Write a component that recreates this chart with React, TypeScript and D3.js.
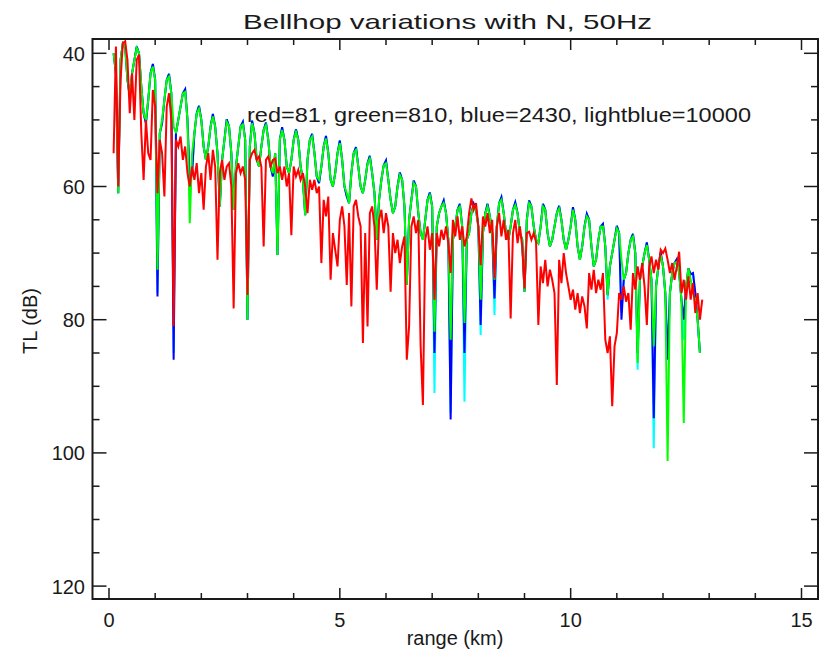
import React from 'react';
import * as d3 from 'd3';

const chartTitle = 'Bellhop variations with N, 50Hz';
const legendText = 'red=81, green=810, blue=2430, lightblue=10000';
const xLabel = 'range (km)';
const yLabel = 'TL (dB)';
const xMajorTicks = [0, 5, 10, 15];
const xMinorTicks = [0, 1, 2, 3, 4, 5, 6, 7, 8, 9, 10, 11, 12, 13, 14, 15];
const yMajorTicks = [40, 60, 80, 100, 120];
const yMinorTicks = [40, 45, 50, 55, 60, 65, 70, 75, 80, 85, 90, 95, 100, 105, 110, 115, 120];

// range grid: first sample (km) and spacing (km)
const rangeStartKm = 0.1;
const rangeStepKm = 0.05;

// N = 81
const redTL = [
  55, 39, 60, 44, 38.5, 38.2, 41, 49, 43, 50, 41, 40.2, 52, 59, 50, 55, 56, 45.5, 48, 61,
  53, 55, 61.5, 48, 46, 50, 81, 53, 54, 52.5, 56, 54, 58, 60, 57, 59, 56.5, 61, 58, 63.5,
  57, 55, 59, 54.5, 57, 71, 58, 56, 59, 57, 56.5, 60, 78.3, 58, 56.5, 58, 57, 59, 76.3, 56,
  55, 54.5, 56, 55.5, 57, 69, 56, 55.5, 57, 56, 55.8, 58, 57, 59, 57, 60, 58, 67.3, 57, 58.5,
  57.5, 59, 58, 60, 64, 59, 60.5, 59, 61, 60, 71.5, 62, 64.5, 61.5, 74, 67, 69.5, 72, 65, 63,
  66, 74.8, 64, 78, 63, 62, 64.5, 66, 83.5, 67, 81, 64, 63, 66, 75.5, 65, 63.5, 67, 64, 66,
  75.8, 67, 70, 68, 71.5, 69, 67.5, 86, 81, 66, 64.5, 67, 65, 84, 92.8, 68, 66, 69.5, 67, 77,
  67, 69, 66.5, 68, 66, 68.5, 73, 65, 67.5, 64.5, 68, 66, 69, 67.5, 64, 61.8, 63.5, 62.5, 66, 71.8,
  64.5, 66, 64, 67, 65, 73.8, 66, 64, 67.5, 65, 68, 66.5, 79.8, 67, 65, 68.5, 66, 69, 75.3, 67,
  66.8, 68, 67, 68.3, 80.8, 72, 74.5, 71, 75, 72.5, 74, 76, 89.8, 71, 74.5, 70, 73, 75, 77, 75.5,
  78.5, 76, 79, 76.5, 78, 81.3, 73, 75.5, 72.5, 76, 74, 75.5, 73, 83, 85, 82.5, 93, 84, 82, 76,
  77, 75, 77.3, 76, 81.5, 73, 75.5, 72, 74, 71.5, 75, 80.8, 72, 70.5, 73, 71, 72.5, 69.5, 70, 69.3,
  71, 73, 71.5, 74, 72, 69.8, 76, 74, 77, 73.5, 77, 74.5, 79, 76, 80, 77,
];

// N = 810
const greenTL = [
  40, 43, 61, 41, 38.5, 39, 44, 46, 43, 41, 39.2, 40, 45, 49, 50, 47, 43, 42, 44, 72.5,
  52, 50, 47, 44, 43.5, 46, 51, 52, 50, 48, 46, 45.8, 50, 65.5, 55, 52, 49, 48.3, 50, 54,
  56, 54, 51, 49.5, 51, 55, 63, 56, 53, 50.3, 51, 55, 63.5, 57, 54, 51, 50.7, 53, 80, 54,
  50.5, 52, 56, 57, 54, 51.5, 50.8, 53, 57, 58, 55, 70.3, 53, 51.5, 53, 57, 58, 56, 53, 51.8,
  53, 57, 59, 64.3, 56, 53, 52.5, 55, 58.5, 59, 57, 54, 52.8, 55, 59, 60, 58, 55, 53.5, 56,
  60, 61, 62.5, 58, 55, 54.5, 57, 60, 61, 59, 56.5, 55.8, 58, 61, 68, 62, 59, 56.8, 56.5, 59,
  62, 64, 63, 60, 58.3, 59, 63, 74.8, 65, 62, 59.5, 60, 64, 67, 68, 65, 62, 61.3, 63, 81.8,
  66, 64, 63, 62.5, 64, 68, 83, 68, 66, 63.5, 63, 66, 80.5, 68, 67, 64, 63, 63.5, 66, 77,
  67, 64, 63, 64.5, 67, 74, 66, 62.5, 62, 64, 67, 68, 66, 63.5, 62.8, 64, 67, 68, 75.8, 65,
  62.5, 63, 66, 68, 68.5, 66, 63, 63.5, 67, 69, 68, 66, 64, 63.3, 65, 68, 69.5, 68, 66, 63.5,
  65, 69, 71, 69, 66, 64.5, 65, 69, 72, 71, 68, 66, 66, 69, 76.3, 72, 70, 68, 66.3, 67,
  71, 74, 73, 70, 68, 67.5, 70, 86.5, 74, 72, 70, 68.8, 71, 74, 84, 75, 72, 70.3, 72, 76,
  101.2, 76, 73, 71.5, 71.3, 73, 77, 95.5, 75, 72.3, 74, 76, 77, 80, 85,
];

// N = 2430
const blueTL = [
  40, 43, 61, 41, 38.5, 39, 44, 46.5, 43, 41, 39, 40, 45, 49, 50.5, 47, 43, 41.6, 44, 76.5,
  52, 50.5, 47, 44, 43.1, 46, 86, 52, 50, 48, 46, 45.4, 50, 59.5, 58, 52, 49, 47.9, 50, 54,
  56, 54, 51, 49.1, 51, 55, 63, 56, 53, 49.9, 51, 55, 63.5, 57, 54, 51, 50.3, 53, 80, 54,
  50.1, 52, 56, 57, 54, 51.5, 50.4, 53, 57, 58.5, 55, 70.3, 53, 51.1, 53, 57, 58, 56, 53, 51.4,
  53, 57, 59, 64.3, 56, 53, 52.1, 55, 58.5, 59.5, 57, 54, 52.4, 55, 59, 60, 58, 55, 53.1, 56,
  60, 61.5, 62.5, 58, 55, 54.1, 57, 60, 61, 59, 56.5, 55.4, 58, 61, 68, 62, 59, 56.8, 56.1, 59,
  62, 64, 63, 60, 57.9, 59, 63, 74.8, 65, 62, 59.1, 60, 64, 67, 68, 65, 62, 60.9, 63, 85,
  66, 64, 63, 62.1, 64, 68, 95, 68, 66, 63.5, 62.6, 66, 85, 68, 67, 64, 62.6, 63.5, 66, 80.8,
  67, 64, 62.6, 64.5, 67, 76.8, 66, 62.5, 61.6, 64, 67, 68, 66, 63.5, 62.4, 64, 67, 68, 75.8, 65,
  62.1, 63, 66, 68, 68.5, 66, 62.6, 63.5, 67, 69, 68, 66, 64, 62.9, 65, 68, 69.5, 68, 66, 63.1,
  65, 69, 71, 69, 66, 64.1, 65, 69, 72, 71, 68, 66, 65.6, 69, 76.3, 72, 70, 68, 65.9, 67,
  80, 74, 73, 70, 68, 67.1, 70, 85, 74, 72, 70, 68.4, 71, 74, 94.8, 75, 72, 69.9, 72, 76,
  86, 76, 73, 71.5, 70.9, 73, 77, 80, 75, 72.3, 73.2, 73, 76, 80, 85,
];

// N = 10000
const lightblueTL = [
  40, 43, 61, 41, 38.5, 39, 44, 46.5, 43, 41, 39, 40, 45, 49, 50.5, 47, 43, 41.6, 44, 76,
  52, 50.5, 47, 44, 43.1, 46, 85, 52, 50, 48, 46, 45.4, 50, 59.5, 58, 52, 49, 47.9, 50, 54,
  56, 54, 51, 49.1, 51, 55, 63, 56, 53, 49.9, 51, 55, 63.5, 57, 54, 51, 50.3, 53, 80, 54,
  50.1, 52, 56, 57, 54, 51.5, 50.4, 53, 57, 58.5, 55, 70.3, 53, 51.1, 53, 57, 58, 56, 53, 51.4,
  53, 57, 59, 64.3, 56, 53, 52.1, 55, 58.5, 59.5, 57, 54, 52.4, 55, 59, 60, 58, 55, 53.1, 56,
  60, 61.5, 62.5, 58, 55, 54.1, 57, 60, 61, 59, 56.5, 55.4, 58, 61, 68, 62, 59, 56.8, 56.1, 59,
  62, 64, 63, 60, 57.9, 59, 63, 74.8, 65, 62, 59.1, 60, 64, 67, 68, 65, 62, 60.9, 63, 91,
  66, 64, 63, 62.1, 64, 68, 94, 68, 66, 63.5, 62.6, 66, 92.3, 68, 67, 64, 62.6, 63.5, 66, 82.3,
  67, 64, 62.6, 64.5, 67, 79.3, 66, 62.5, 61.6, 64, 67, 68, 66, 63.5, 62.4, 64, 67, 68, 75.8, 65,
  62.1, 63, 66, 68, 68.5, 66, 62.6, 63.5, 67, 69, 68, 66, 64, 62.9, 65, 68, 69.5, 68, 66, 63.1,
  65, 69, 71, 69, 66, 64.1, 65, 69, 72, 71, 68, 66, 65.6, 69, 77, 72, 70, 68, 65.9, 67,
  79, 74, 73, 70, 68, 67.1, 70, 87.5, 74, 72, 70, 68.4, 71, 74, 99.3, 75, 72, 69.9, 72, 76,
  85, 76, 73, 71.5, 70.9, 73, 77, 83, 75, 72.3, 73.2, 73, 76, 80, 85,
];

const seriesList = [
  { name: 'lightblue', color: '#00ffff', values: lightblueTL },
  { name: 'blue', color: '#0000ff', values: blueTL },
  { name: 'green', color: '#00ff00', values: greenTL },
  { name: 'red', color: '#ff0000', values: redTL },
];

const W = 822;
const H = 659;
const frame = { left: 92.5, right: 818, top: 39, bottom: 599 };
const FONT = "'Liberation Sans', Arial, sans-serif";
const INK = '#1a1a1a';

export default function App() {
  const x = d3.scaleLinear().domain([0, 15]).range([109, 801.5]);
  const y = d3.scaleLinear().domain([40, 120]).range([53.3, 586.1]);

  const line = d3
    .line<number>()
    .x((_, i) => x(rangeStartKm + i * rangeStepKm))
    .y((d) => y(d));

  const xMajorLen = 11;
  const xMinorLen = 6;
  const yMajorLen = 14;
  const yMinorLen = 7;

  return (
    <svg
      width={W}
      height={H}
      style={{ position: 'absolute', left: 0, top: 0, background: '#fff' }}
      fontFamily={FONT}
    >
      <rect x={0} y={0} width={W} height={H} fill="#fff" />
      <defs>
        <clipPath id="plotClip">
          <rect x={frame.left} y={frame.top} width={frame.right - frame.left} height={frame.bottom - frame.top} />
        </clipPath>
      </defs>

      <text x={243} y={29} fontSize={21} fill={INK} textLength={409} lengthAdjust="spacingAndGlyphs">
        {chartTitle}
      </text>

      <g clipPath="url(#plotClip)">
        {seriesList.map((s) => (
          <path
            key={s.name}
            d={line(s.values) || ''}
            fill="none"
            stroke={s.color}
            strokeWidth={2}
            strokeLinejoin="miter"
          />
        ))}
      </g>

      <text x={247} y={122} fontSize={20} fill={INK} textLength={504} lengthAdjust="spacingAndGlyphs">
        {legendText}
      </text>

      {/* frame */}
      <rect
        x={frame.left}
        y={frame.top}
        width={frame.right - frame.left}
        height={frame.bottom - frame.top}
        fill="none"
        stroke={INK}
        strokeWidth={2}
      />

      {/* x ticks (bottom and top) */}
      {xMinorTicks.map((t) => {
        const len = xMajorTicks.includes(t) ? xMajorLen : xMinorLen;
        return (
          <g key={'xt' + t} stroke={INK} strokeWidth={1.5}>
            <line x1={x(t)} x2={x(t)} y1={frame.bottom} y2={frame.bottom - len} />
            <line x1={x(t)} x2={x(t)} y1={frame.top} y2={frame.top + len} />
          </g>
        );
      })}
      {xMajorTicks.map((t) => (
        <text key={'xl' + t} x={x(t)} y={627} fontSize={20} fill={INK} textAnchor="middle">
          {t}
        </text>
      ))}
      <text x={455} y={645} fontSize={20} fill={INK} textAnchor="middle">
        {xLabel}
      </text>

      {/* y ticks (left and right) */}
      {yMinorTicks.map((t) => {
        const len = yMajorTicks.includes(t) ? yMajorLen : yMinorLen;
        return (
          <g key={'yt' + t} stroke={INK} strokeWidth={1.5}>
            <line x1={frame.left} x2={frame.left + len} y1={y(t)} y2={y(t)} />
            <line x1={frame.right} x2={frame.right - len} y1={y(t)} y2={y(t)} />
          </g>
        );
      })}
      {yMajorTicks.map((t) => (
        <text key={'yl' + t} x={85} y={y(t) + 7.5} fontSize={20} fill={INK} textAnchor="end">
          {t}
        </text>
      ))}
      <text
        x={0}
        y={0}
        fontSize={20}
        fill={INK}
        textAnchor="middle"
        transform={`translate(37, 321) rotate(-90)`}
      >
        {yLabel}
      </text>
    </svg>
  );
}
